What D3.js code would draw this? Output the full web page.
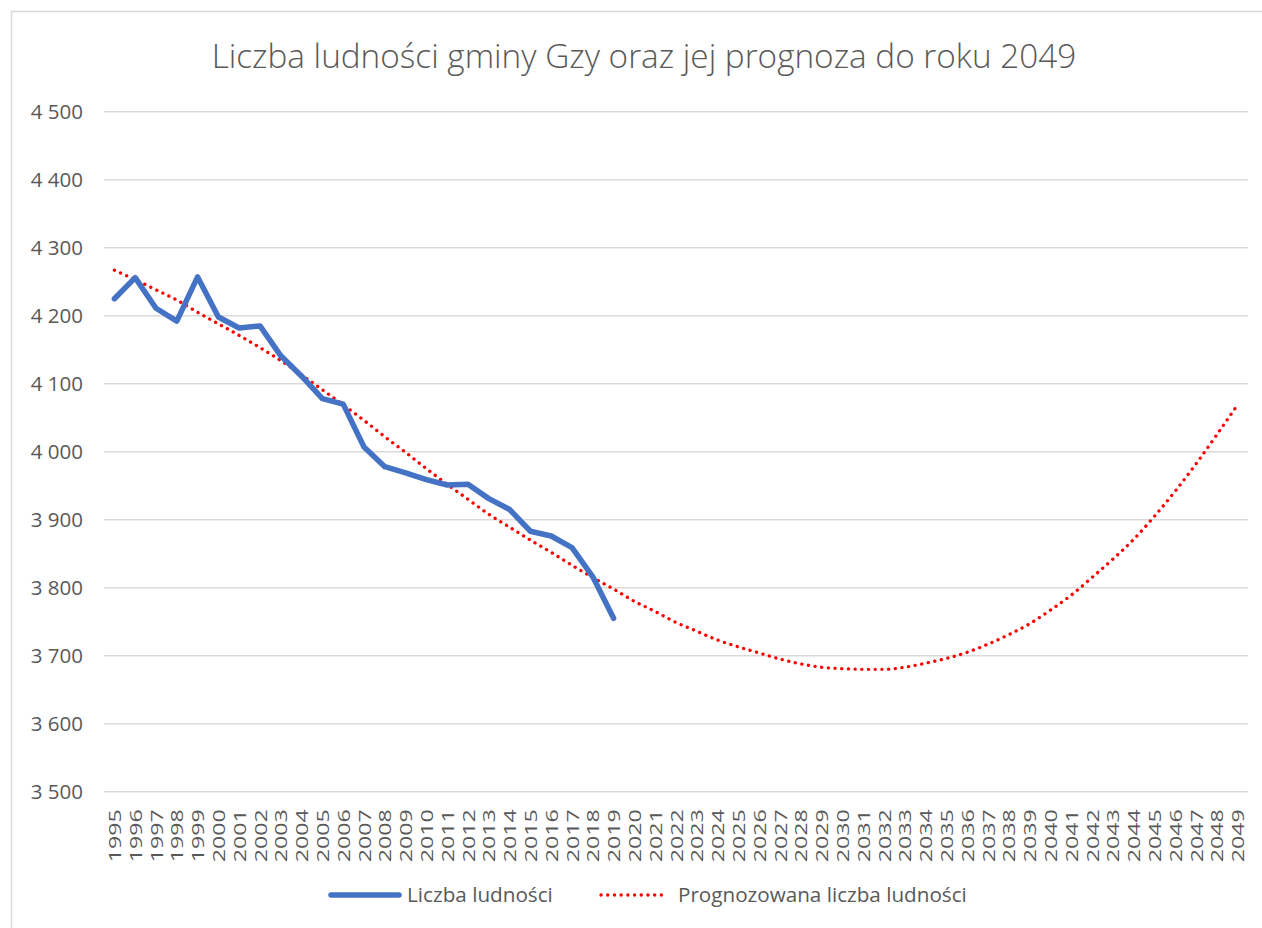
<!DOCTYPE html>
<html><head><meta charset="utf-8">
<script src="https://cdn.jsdelivr.net/npm/d3@7"></script>
<style>
html,body{margin:0;padding:0;background:#fff;}
text{font-family:"Open Sans","Noto Sans",sans-serif;fill:#595959;}
</style></head>
<body>
<svg id="chart" width="1262" height="928"></svg>
<script>
const title = "Liczba ludności gminy Gzy oraz jej prognoza do roku 2049";
const years = d3.range(1995, 2050).map(String);
const actualYears = d3.range(1995, 2020).map(String);
const actualValues = [4225, 4256, 4211, 4192, 4257, 4198, 4182, 4185, 4141, 4111,
  4078, 4070, 4007, 3978, 3969, 3959, 3951, 3952, 3931, 3915,
  3883, 3876, 3859, 3816, 3755];
const forecastValues = [4267, 4253, 4238, 4223, 4205, 4188, 4171, 4153, 4134, 4113,
  4091, 4069, 4046, 4022, 3999, 3975, 3952, 3930, 3908, 3889,
  3870, 3852, 3833, 3815, 3798,
  3780, 3765, 3749, 3736, 3723, 3713, 3704, 3695, 3688, 3683,
  3681, 3680, 3680, 3683, 3689, 3696, 3705, 3717, 3731, 3747,
  3767, 3789, 3815, 3842, 3871, 3905, 3942, 3982, 4025, 4069];
const yTicks = [3500, 3600, 3700, 3800, 3900, 4000, 4100, 4200, 4300, 4400, 4500];
const seriesNames = ["Liczba ludności", "Prognozowana liczba ludności"];

const svg = d3.select("#chart");
const fmt = v => d3.format(",")(v).replace(/,/g, " ");

// chart border
svg.append("rect").attr("x", 11.5).attr("y", 11.5).attr("width", 1262).attr("height", 928)
  .attr("fill", "#fff").attr("stroke", "#d9d9d9").attr("stroke-width", 1.5);

function fitText(sel, target) {
  const w = sel.node().getComputedTextLength();
  const fs = parseFloat(sel.attr("font-size"));
  sel.attr("font-size", fs * target / w);
}

// title
const t = svg.append("text").attr("x", 644).attr("y", 68).attr("text-anchor", "middle")
  .attr("font-size", 28).attr("font-weight", 300).text(title);
fitText(t, 865);

const x = d3.scalePoint().domain(years).range([104, 1248]).padding(0.5);
const y = d3.scaleLinear().domain([3500, 4500]).range([791.7, 111.7]);

// gridlines
svg.append("g").selectAll("line").data(yTicks).join("line")
  .attr("x1", 104).attr("x2", 1248)
  .attr("y1", d => y(d)).attr("y2", d => y(d))
  .attr("stroke", "#d9d9d9").attr("stroke-width", 1.5);

// y axis labels
const yAxis = d3.axisLeft(y).tickValues(yTicks).tickFormat(fmt).tickSize(0).tickPadding(0);
const yg = svg.append("g").attr("transform", "translate(83,0)").call(yAxis);
yg.select(".domain").remove();
yg.selectAll("text").attr("font-size", 20.5).attr("fill", "#595959")
  .style("font-family", '"Open Sans","Noto Sans",sans-serif');

// x axis labels
const xAxis = d3.axisBottom(x).tickSize(0).tickPadding(0);
const xg = svg.append("g").attr("transform", "translate(0,791.7)").call(xAxis);
xg.select(".domain").remove();
xg.selectAll("text")
  .attr("transform", "rotate(-90)")
  .attr("text-anchor", "end")
  .attr("x", -17.5).attr("y", 0).attr("dy", "0.36em")
  .attr("font-size", 17).attr("fill", "#595959")
  .attr("textLength", 53).attr("lengthAdjust", "spacingAndGlyphs")
  .style("font-family", '"Open Sans","Noto Sans",sans-serif');

// forecast (dotted red)
const fLine = d3.line().x((d, i) => x(years[i])).y(d => y(d)).curve(d3.curveMonotoneX);
svg.append("path").datum(forecastValues).attr("d", fLine)
  .attr("fill", "none").attr("stroke", "#ff0000").attr("stroke-width", 3.3)
  .attr("stroke-linecap", "round").attr("stroke-dasharray", "0.1 6.6");

// actual (blue)
const aLine = d3.line().x((d, i) => x(actualYears[i])).y(d => y(d));
svg.append("path").datum(actualValues).attr("d", aLine)
  .attr("fill", "none").attr("stroke", "#4472c4").attr("stroke-width", 5.5)
  .attr("stroke-linejoin", "round").attr("stroke-linecap", "round");

// legend
const lg = svg.append("g");
lg.append("line").attr("x1", 331).attr("x2", 399).attr("y1", 895).attr("y2", 895)
  .attr("stroke", "#4472c4").attr("stroke-width", 5.5).attr("stroke-linecap", "round");
const l1 = lg.append("text").attr("x", 407).attr("y", 895).attr("dy", "0.35em")
  .attr("font-size", 19).text(seriesNames[0]);
fitText(l1, 146);
lg.append("line").attr("x1", 601).attr("x2", 667).attr("y1", 895).attr("y2", 895)
  .attr("stroke", "#ff0000").attr("stroke-width", 3.3).attr("stroke-linecap", "round")
  .attr("stroke-dasharray", "0.1 6.6");
const l2 = lg.append("text").attr("x", 678).attr("y", 895).attr("dy", "0.35em")
  .attr("font-size", 19).text(seriesNames[1]);
fitText(l2, 289);
</script>
</body></html>
